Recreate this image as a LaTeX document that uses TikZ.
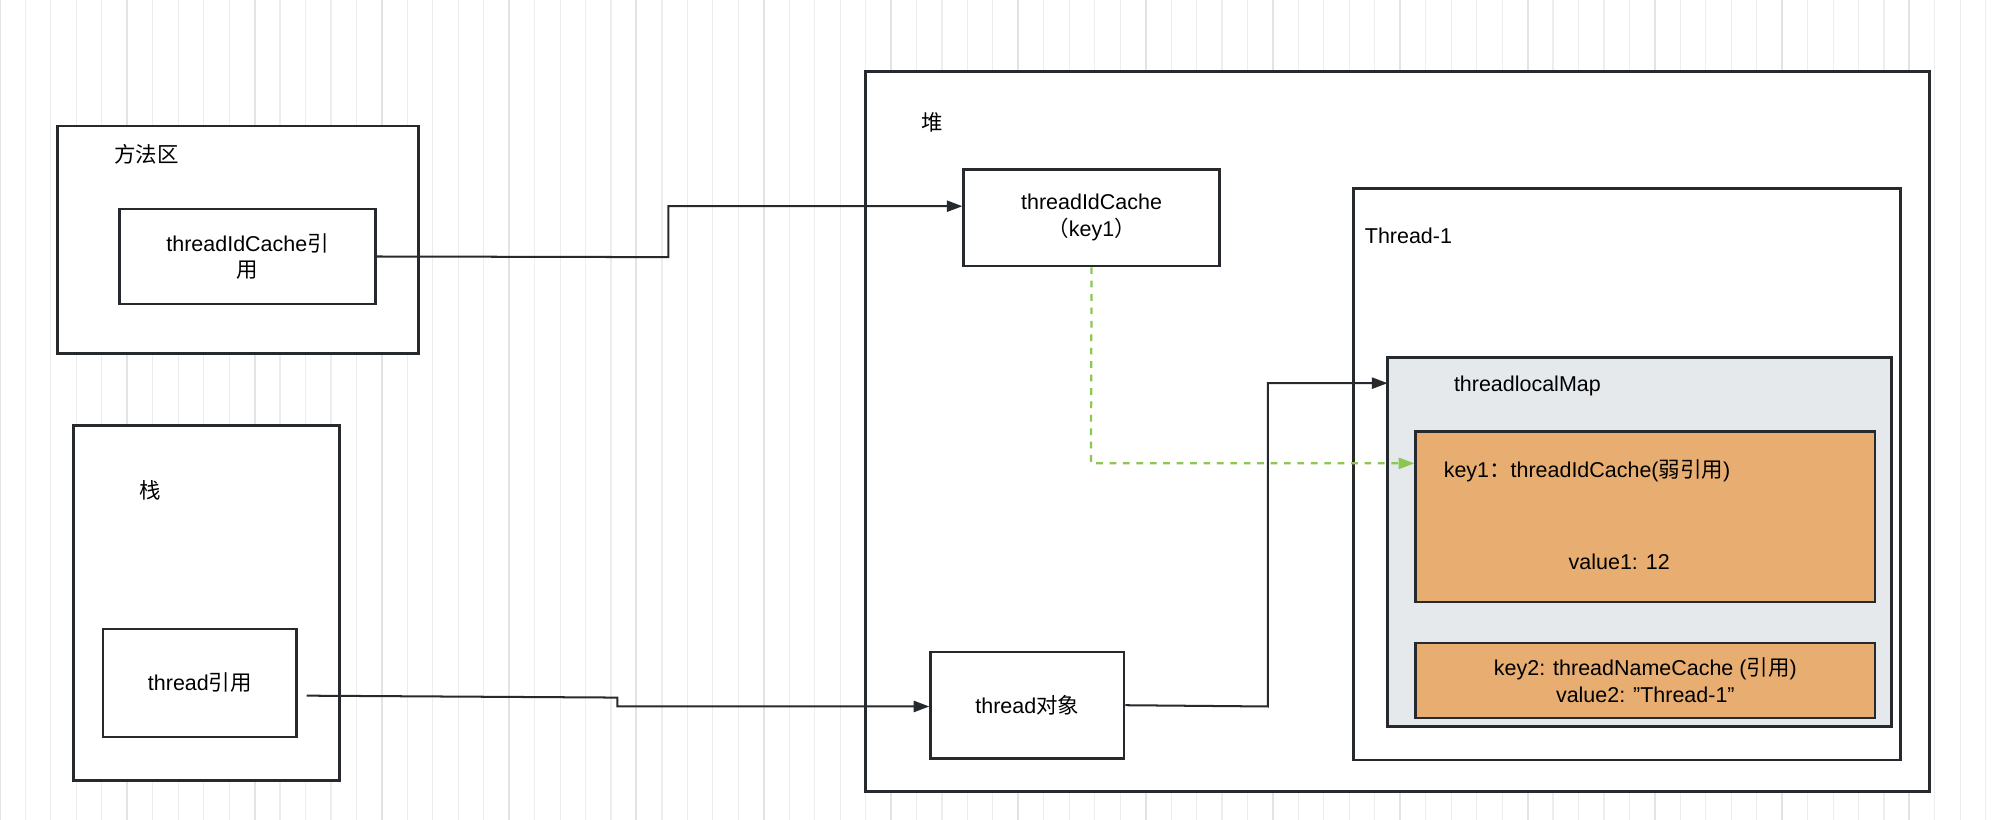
\documentclass[tikz,border=0pt]{standalone}
\usepackage{fontspec}
\setmainfont{Liberation Sans}
\newfontfamily\cjk{Noto Sans CJK SC}
\usetikzlibrary{arrows.meta, positioning}
\definecolor{mapgray}{HTML}{E6E9EC}
\definecolor{entry}{HTML}{E8AD71}
\definecolor{weak}{HTML}{8CC751}
\definecolor{edge}{HTML}{262A2E}
\begin{document}
\begin{tikzpicture}[x=0.02cm, y=-0.02cm,
        font=\fontsize{9.6}{12}\selectfont,
        area/.style={draw=edge, line width=1.3pt, rectangle},
        box/.style={draw=edge, line width=1.1pt, rectangle, align=center, inner sep=0pt},
        arrow/.style={-{Triangle[length=7pt,width=5pt]}, edge, line width=0.9pt},
        weakarrow/.style={-{Triangle[length=7pt,width=5pt]}, weak, dashed, line width=1pt}
    ]
        % background grid
        \useasboundingbox (0,0) rectangle (1568,644);
        \draw[black!7, line width=0.5pt] (0,0) grid[step=20] (1568,644);
        \draw[black!11, line width=0.9pt] (0,0) grid[step=100] (1568,644);

        % Areas
        \draw[area, fill=white] (45,99) rectangle (329,278);
        \node (mlabel) at (115,121) {\cjk 方法区};
        \draw[area, fill=white] (58,334) rectangle (267,613);
        \node (slabel) at (118,385) {\cjk 栈};
        \draw[area, fill=white] (680,56) rectangle (1516,622);
        \node (hlabel) at (732,96) {\cjk 堆};
        \draw[area, fill=white] (1063,148) rectangle (1493,597);
        \node[anchor=west] (tlabel) at (1066,185) {Thread-1};
        \draw[area, fill=mapgray] (1090,281) rectangle (1486,571);
        \node[anchor=west] (maplabel) at (1136,303) {threadlocalMap};

        % Boxes
        \node[box, minimum width=201*0.02cm, minimum height=75*0.02cm] (cacheref) at (194.5,201.5) {threadIdCache{\cjk 引}\\{\cjk 用}};
        \node[box, minimum width=152*0.02cm, minimum height=85*0.02cm] (threadref) at (157,536.5) {thread{\cjk 引用}};
        \node[box, fill=white, minimum width=201*0.02cm, minimum height=76*0.02cm] (cache) at (857.5,171) {threadIdCache\\{\cjk （}key1{\cjk ）}};
        \node[box, fill=white, minimum width=152*0.02cm, minimum height=84*0.02cm] (threadobj) at (807,554) {thread{\cjk 对象}};
        \node[box, fill=entry, minimum width=361*0.02cm, minimum height=134*0.02cm] (entry1) at (1292.5,406) {};
        \node[anchor=west] (key1) at (1128,370) {key1{\cjk ：}threadIdCache({\cjk 弱引用})};
        \node (value1) at (1272,441) {value1: 12};
        \node[box, fill=entry, minimum width=361*0.02cm, minimum height=59*0.02cm] (entry2) at (1292.5,534.5) {key2: threadNameCache ({\cjk 引用})\\value2: "Thread-1"};

        % Arrows
        \draw[arrow] (cacheref.east) -- (525,202) -- (525,162) -- (cache.west |- 0,162);
        \draw[arrow] (threadref.east) ++(7,10) -- (485,548) -- (485,555) -- (threadobj.west |- 0,555);
        \draw[arrow] (threadobj.east) -- (996,555) -- (996,301) -- (1090,301);
        \draw[weakarrow] (cache.south) -- (857,364) -- (entry1.west |- 0,364);
    \end{tikzpicture}
\end{document}
